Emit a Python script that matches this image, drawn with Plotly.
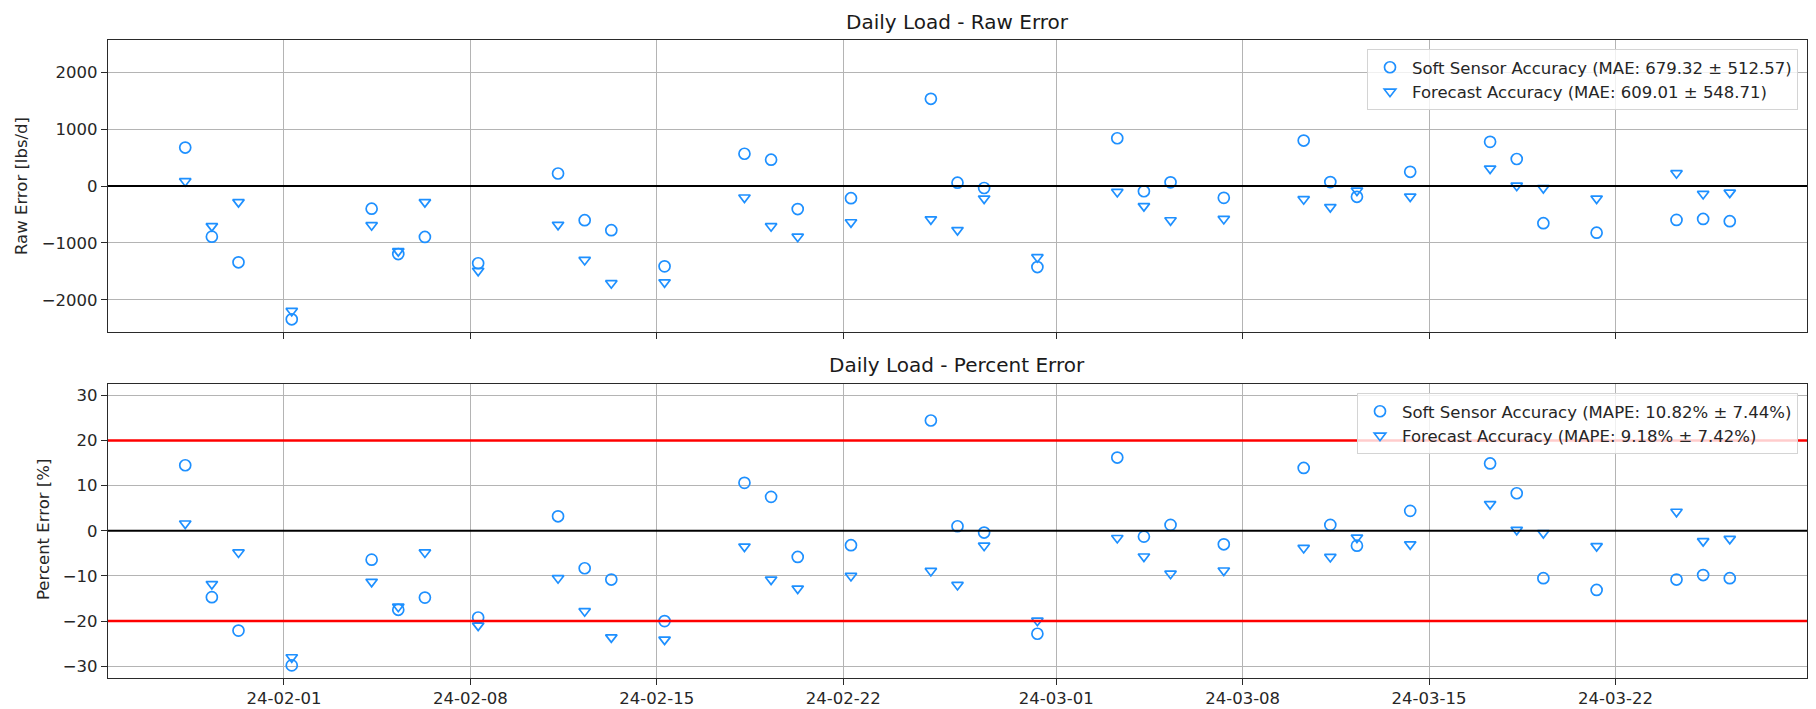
import pandas as pd
import plotly.graph_objects as go

# Sample days (readings are logged at 07:00 each day)
dates = [
    "2024-01-28", "2024-01-29", "2024-01-30", "2024-02-01", "2024-02-04",
    "2024-02-05", "2024-02-06", "2024-02-08", "2024-02-11", "2024-02-12",
    "2024-02-13", "2024-02-15", "2024-02-18", "2024-02-19", "2024-02-20",
    "2024-02-22", "2024-02-25", "2024-02-26", "2024-02-27", "2024-02-29",
    "2024-03-03", "2024-03-04", "2024-03-05", "2024-03-07", "2024-03-10",
    "2024-03-11", "2024-03-12", "2024-03-14", "2024-03-17", "2024-03-18",
    "2024-03-19", "2024-03-21", "2024-03-24", "2024-03-25", "2024-03-26",
]
sample_hour = 7

# Raw error [lbs/d]
soft_raw = [
    675, -889, -1339, -2340, -398,
    -1194, -894, -1356, 219, -600,
    -776, -1410, 566, 462, -405,
    -214, 1530, 58, -35, -1422,
    838, -92, 64, -208, 798,
    69, -190, 249, 775, 474,
    -653, -820, -595, -578, -618,
]
forecast_raw = [
    85, -704, -283, -2193, -687,
    -1143, -283, -1489, -681, -1298,
    -1705, -1690, -202, -705, -890,
    -636, -584, -774, -220, -1249,
    -104, -353, -601, -578, -231,
    -370, -80, -185, 306, 6,
    -35, -220, 225, -139, -116,
]

# Percent error [%]
soft_pct = [
    14.5, -14.7, -22.1, -29.8, -6.4,
    -17.5, -14.8, -19.2, 3.2, -8.3,
    -10.8, -20.0, 10.6, 7.5, -5.8,
    -3.2, 24.4, 1.0, -0.4, -22.8,
    16.2, -1.3, 1.3, -3.0, 13.9,
    1.3, -3.3, 4.4, 14.9, 8.3,
    -10.5, -13.1, -10.8, -9.8, -10.5,
]
forecast_pct = [
    1.6, -11.8, -4.8, -28.0, -11.3,
    -16.8, -4.8, -21.0, -10.5, -17.8,
    -23.6, -24.1, -3.5, -10.8, -12.8,
    -10.0, -8.9, -12.0, -3.3, -19.9,
    -1.6, -5.7, -9.5, -8.8, -3.8,
    -5.8, -1.5, -3.0, 5.9, 0.2,
    -0.5, -3.4, 4.2, -2.3, -1.8,
]

# Date ticks fall on the 1st, 8th, 15th and 22nd of each month
tick_dates = [
    "2024-02-01", "2024-02-08", "2024-02-15", "2024-02-22",
    "2024-03-01", "2024-03-08", "2024-03-15", "2024-03-22",
]

raw_labels = [
    "Soft Sensor Accuracy (MAE: 679.32 ± 512.57)",
    "Forecast Accuracy (MAE: 609.01 ± 548.71)",
]
pct_labels = [
    "Soft Sensor Accuracy (MAPE: 10.82% ± 7.44%)",
    "Forecast Accuracy (MAPE: 9.18% ± 7.42%)",
]
titles = ["Daily Load - Raw Error", "Daily Load - Percent Error"]
y_titles = ["Raw Error [lbs/d]", "Percent Error [%]"]
pct_limit = 20

x = pd.to_datetime(dates) + pd.Timedelta(hours=sample_hour)
span = x.max() - x.min()
x_range = [x.min() - 0.05 * span, x.max() + 0.05 * span]
ticks = pd.to_datetime(tick_dates)

raw_lim = 1.095 * max(abs(v) for v in soft_raw + forecast_raw)
pct_lim = 1.09 * max(abs(v) for v in soft_pct + forecast_pct)

BLUE = "#1E90FF"
FONT = "DejaVu Sans"
TXT = "#262626"
W, H = 1816, 709


def px_x(p):
    return p / W


def px_y(p):
    return 1 - p / H


fig = go.Figure()

series = [
    (soft_raw, raw_labels[0], "circle-open", "x", "y", "legend"),
    (forecast_raw, raw_labels[1], "triangle-down-open", "x", "y", "legend"),
    (soft_pct, pct_labels[0], "circle-open", "x2", "y2", "legend2"),
    (forecast_pct, pct_labels[1], "triangle-down-open", "x2", "y2", "legend2"),
]
for vals, name, sym, xa, ya, leg in series:
    fig.add_trace(go.Scatter(
        x=x, y=vals, mode="markers", name=name,
        xaxis=xa, yaxis=ya, legend=leg,
        marker=dict(symbol=sym, size=11 if "circle" in sym else 10,
                    color=BLUE, line=dict(width=1.7, color=BLUE)),
    ))

# Reference lines
fig.add_shape(type="line", xref="x domain", yref="y", x0=0, x1=1, y0=0, y1=0,
              line=dict(color="black", width=2), layer="above")
fig.add_shape(type="line", xref="x2 domain", yref="y2", x0=0, x1=1, y0=0, y1=0,
              line=dict(color="black", width=2), layer="above")
for lim in (pct_limit, -pct_limit):
    fig.add_shape(type="line", xref="x2 domain", yref="y2", x0=0, x1=1,
                  y0=lim, y1=lim, line=dict(color="#ff0000", width=2.5),
                  layer="above")

x_dom = [px_x(108), px_x(1807)]
axis_common = dict(
    showline=True, mirror=True, linecolor="#2a2a2a", linewidth=1.3,
    ticks="outside", ticklen=6, tickwidth=1.2, tickcolor="#2a2a2a",
    showgrid=True, gridcolor="#b4b4b4", gridwidth=1, zeroline=False,
    tickfont=dict(family=FONT, size=16.5, color=TXT),
)
xaxis_common = dict(
    axis_common, type="date", range=x_range, tickmode="array",
    tickvals=ticks, ticktext=[d.strftime("%y-%m-%d") for d in ticks],
    domain=x_dom,
)

legend_common = dict(
    x=px_x(1798), xanchor="right", yanchor="top",
    bgcolor="rgba(255,255,255,0.8)", bordercolor="#d4d4d4", borderwidth=1,
    font=dict(family=FONT, size=16.5, color=TXT),
    tracegroupgap=0, itemwidth=34,
)

fig.update_layout(
    width=W, height=H,
    margin=dict(l=0, r=0, t=0, b=0),
    paper_bgcolor="white", plot_bgcolor="white",
    font=dict(family=FONT, size=16.5, color=TXT),
    xaxis=dict(xaxis_common, anchor="y", showticklabels=False, matches="x2"),
    xaxis2=dict(xaxis_common, anchor="y2"),
    yaxis=dict(axis_common, anchor="x", domain=[px_y(332), px_y(40)],
               range=[-raw_lim, raw_lim], tick0=0, dtick=1000),
    yaxis2=dict(axis_common, anchor="x2", domain=[px_y(677.5), px_y(384)],
                range=[-pct_lim, pct_lim], tick0=0, dtick=10),
    showlegend=True,
    legend=dict(legend_common, y=px_y(49)),
    legend2=dict(legend_common, y=px_y(393)),
)

x_mid = (x_dom[0] + x_dom[1]) / 2
for text, yc in zip(titles, (22, 365)):
    fig.add_annotation(text=text, xref="paper", yref="paper", x=x_mid,
                       y=px_y(yc), xanchor="center", yanchor="middle",
                       showarrow=False,
                       font=dict(family=FONT, size=20, color="#1a1a1a"))
for text, xc, yc in zip(y_titles, (21, 43), (186, 530)):
    fig.add_annotation(text=text, xref="paper", yref="paper", x=px_x(xc),
                       y=px_y(yc), xanchor="center", yanchor="middle",
                       textangle=-90, showarrow=False,
                       font=dict(family=FONT, size=16.5, color=TXT))

fig.write_html("out.html")
